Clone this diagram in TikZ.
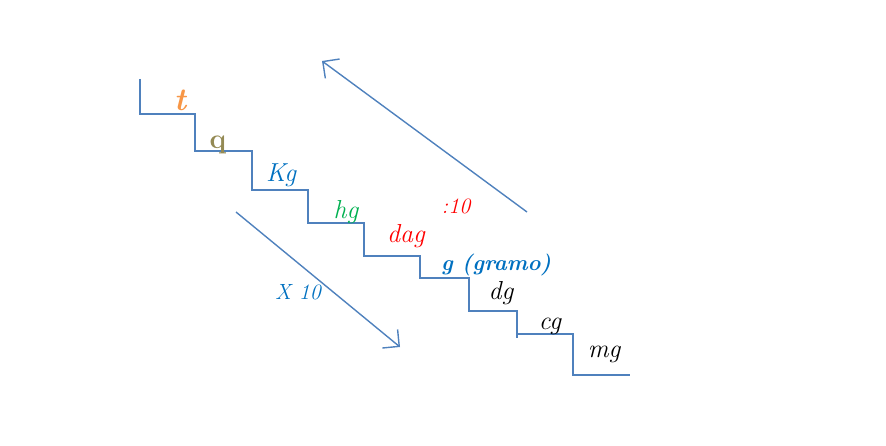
\documentclass[tikz,border=0pt]{standalone}
\usepackage{tikz}
\usetikzlibrary{arrows.meta}
\definecolor{stairBlue}{HTML}{4F81BD}
\definecolor{tonOrange}{HTML}{F79646}
\definecolor{quintalOlive}{HTML}{948A54}
\definecolor{unitBlue}{HTML}{0070C0}
\definecolor{hectoGreen}{HTML}{00B050}
\definecolor{decaRed}{HTML}{FF0000}
\newcommand{\labelSize}[0]{\fontsize{26}{30}\selectfont}
\newcommand{\ratioSize}[0]{\fontsize{22}{26}\selectfont}
\newcommand{\stairWidth}[0]{1.4pt}

\begin{document}
\begin{tikzpicture}[x=1pt, y=-1pt]
  \tikzset{unit/.style={anchor=base, font=\labelSize\itshape},
           stair/.style={stairBlue, line width=\stairWidth},
           conv/.style={stairBlue, line width=\stairWidth, -{Straight Barb[length=12pt, width=24pt]}}}
  \useasboundingbox (0,0) rectangle (886,446);
  \draw[stair] (140,79) |- (195,114) |- (252,151) |- (308,190) |- (364,223) |- (420,256)
    |- (469,278) |- (517,311) |- (573,334) |- (630,375);
  \draw[stair] (517,334) -- (517,338);
  \node[unit, tonOrange, font=\fontsize{32}{36}\selectfont\bfseries\itshape] (t) at (180,111) {t};
  \node[unit, quintalOlive, font=\fontsize{28}{32}\selectfont\bfseries] (q) at (218,149) {q};
  \node[unit, unitBlue] (Kg) at (281,182) {Kg};
  \node[unit, hectoGreen] (hg) at (346,219) {hg};
  \node[unit, decaRed] (dag) at (406,243) {dag};
  \node[unit, unitBlue, font=\fontsize{22}{26}\selectfont\bfseries\itshape] (g) at (496,271) {g (gramo)};
  \node[unit] (dg) at (501,300) {dg};
  \node[unit] (cg) at (550,329) {cg};
  \node[unit] (mg) at (604,357) {mg};
  \node[unit, decaRed, font=\ratioSize\itshape] (div) at (456,214) {:10};
  \node[unit, unitBlue, font=\ratioSize\itshape] (mul) at (298,299) {X 10};
  \coordinate (up-tail) at (527,212);
  \coordinate (up-head) at (322,61);
  \coordinate (down-tail) at (236,212);
  \coordinate (down-head) at (400,347);
  \draw[conv] (up-tail) -- (up-head);
  \draw[conv] (down-tail) -- (down-head);
\end{tikzpicture}
\end{document}
